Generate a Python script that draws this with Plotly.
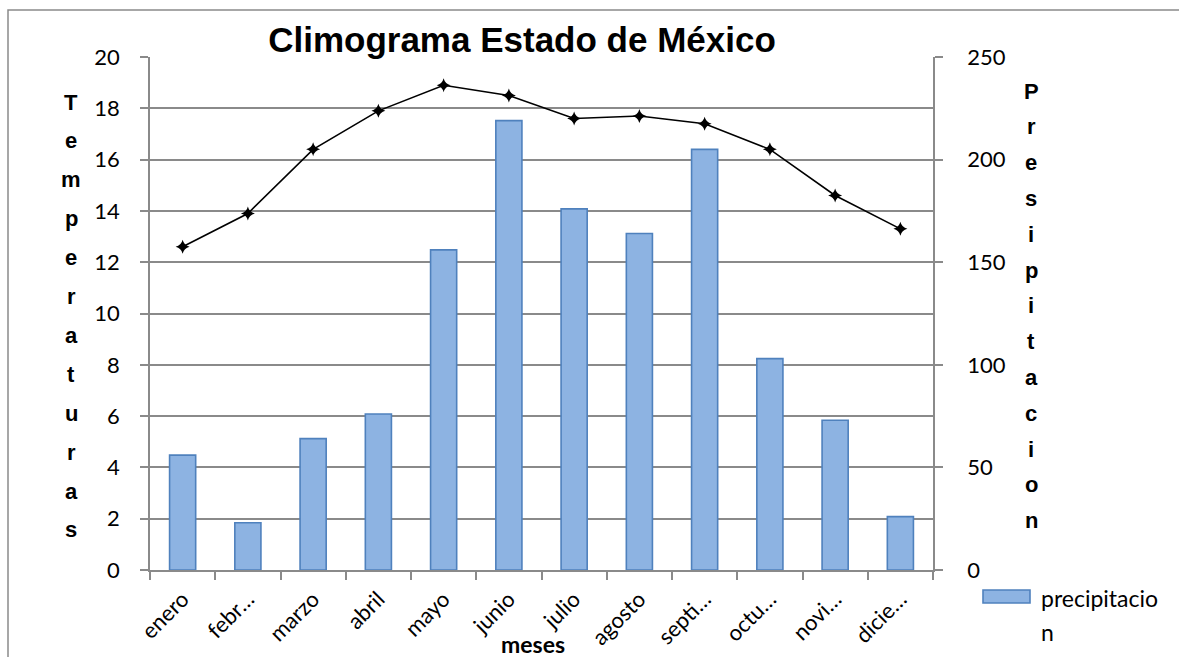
import plotly.graph_objects as go

# Monthly climate data, Estado de México
meses = ["enero", "febr…", "marzo", "abril", "mayo", "junio",
         "julio", "agosto", "septi…", "octu…", "novi…", "dicie…"]
precipitacion = [56, 23, 64, 76, 156, 219, 176, 164, 205, 103, 73, 26]
temperatura = [12.6, 13.9, 16.4, 17.9, 18.9, 18.5, 17.6, 17.7, 17.4, 16.4, 14.6, 13.3]

temp_ticks = [0, 2, 4, 6, 8, 10, 12, 14, 16, 18, 20]
prec_ticks = [0, 50, 100, 150, 200, 250]

titulo = "Climograma Estado de México"
titulo_izq = "Temperaturas"
titulo_der = "Presipitacion"
titulo_x = "meses"
leyenda = ["precipitacio", "n"]

W, H = 1179, 657
L, R, T, B = 150, 246, 57, 87
pw, ph = W - L - R, H - T - B


def px_x(x):
    return (x - L) / pw


def px_y(y):
    return (H - B - y) / ph


GRID = "#8a8a8a"
SANS = "Lato, Open Sans, sans-serif"
TICKFONT = dict(family=SANS, size=22, color="#000")

fig = go.Figure()

fig.add_trace(go.Bar(
    x=meses, y=precipitacion, yaxis="y2", name="precipitacion",
    marker=dict(color="#8db3e2", line=dict(color="#4f81bd", width=1.6)),
    showlegend=False,
))

fig.add_trace(go.Scatter(
    x=meses, y=temperatura, mode="lines+markers", name="temperatura",
    line=dict(color="#000", width=1.6),
    marker=dict(symbol="star-diamond", size=10, color="#000"),
    showlegend=False,
))

fig.update_layout(
    width=W, height=H,
    margin=dict(l=L, r=R, t=T, b=B, autoexpand=False),
    paper_bgcolor="white", plot_bgcolor="white",
    bargap=0.6,
    xaxis=dict(
        range=[-0.5, len(meses) - 0.5], automargin=False,
        tickangle=-45, tickfont=dict(family=SANS, size=22, color="#000"),
        showline=True, linecolor=GRID, linewidth=1.5,
        ticks="outside", ticklen=8, tickcolor=GRID, tickwidth=1.5,
        tickson="boundaries", showgrid=False, ticklabelstandoff=6,
    ),
    yaxis=dict(
        range=[0, 20], tickvals=temp_ticks, tickfont=TICKFONT, automargin=False,
        showline=True, linecolor=GRID, linewidth=1.5,
        ticks="outside", ticklen=8, tickcolor=GRID, tickwidth=1.5,
        showgrid=True, gridcolor=GRID, gridwidth=1.5,
        zeroline=False, ticklabelstandoff=16,
    ),
    yaxis2=dict(
        range=[0, 250], tickvals=prec_ticks, tickfont=TICKFONT, automargin=False,
        overlaying="y", side="right",
        showline=True, linecolor=GRID, linewidth=1.5,
        ticks="outside", ticklen=8, tickcolor=GRID, tickwidth=1.5,
        showgrid=False, zeroline=False, ticklabelstandoff=20,
    ),
    title=dict(
        text=titulo, x=522 / W, y=1 - 40 / H, xanchor="center", yanchor="middle",
        font=dict(family="Liberation Sans, Arial, sans-serif", size=35, color="#000",
                  weight="bold"),
    ),
)

annotations = []

# Stacked letters for the vertical axis titles
for i, ch in enumerate(titulo_izq):
    annotations.append(dict(
        x=px_x(71), y=px_y(102 + i * 38.9), xref="paper", yref="paper",
        text=f"<b>{ch}</b>", showarrow=False, xanchor="center", yanchor="middle",
        font=dict(family="Liberation Sans, Arial, sans-serif", size=22, color="#000"),
    ))
for i, ch in enumerate(titulo_der):
    annotations.append(dict(
        x=px_x(1031), y=px_y(91 + i * 35.8), xref="paper", yref="paper",
        text=f"<b>{ch}</b>", showarrow=False, xanchor="center", yanchor="middle",
        font=dict(family="Liberation Sans, Arial, sans-serif", size=22, color="#000"),
    ))

annotations.append(dict(
    x=px_x(533), y=px_y(644), xref="paper", yref="paper",
    text=f"<b>{titulo_x}</b>", showarrow=False, xanchor="center", yanchor="middle",
    font=dict(family=SANS, size=23, color="#000"),
))

# Legend entry for the bars
for i, linea in enumerate(leyenda):
    annotations.append(dict(
        x=px_x(1039), y=px_y(598 + i * 34), xref="paper", yref="paper",
        text=linea, showarrow=False, xanchor="left", yanchor="middle",
        font=dict(family=SANS, size=23, color="#000"),
    ))

fig.update_layout(annotations=annotations)

fig.add_shape(type="rect", xref="paper", yref="paper",
              x0=px_x(983), x1=px_x(1030), y0=px_y(603), y1=px_y(590),
              fillcolor="#8db3e2", line=dict(color="#4f81bd", width=1.6))

# Outer chart border
fig.add_shape(type="rect", xref="paper", yref="paper",
              x0=px_x(8), x1=px_x(1300), y0=px_y(800), y1=px_y(10),
              fillcolor="rgba(0,0,0,0)", line=dict(color=GRID, width=1.5))

fig.write_html("out.html")
